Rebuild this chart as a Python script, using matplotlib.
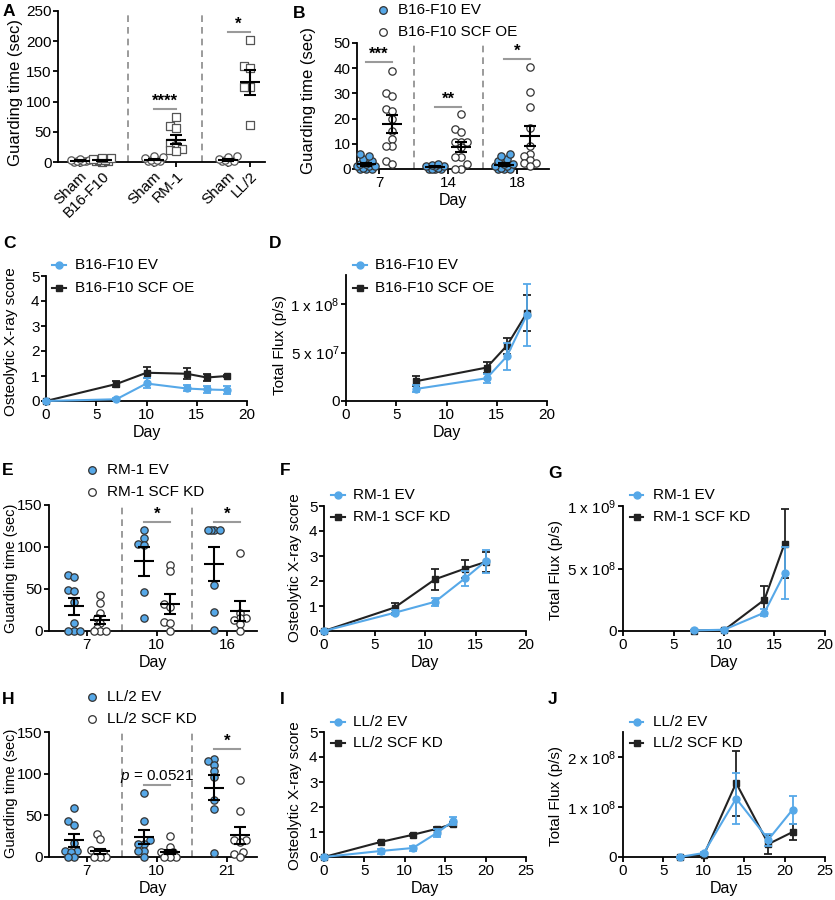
import numpy as np
import matplotlib
matplotlib.use('Agg')
import matplotlib.pyplot as plt
from matplotlib.lines import Line2D

matplotlib.rcParams.update({
    'font.family': ['Liberation Sans', 'DejaVu Sans'],
    'font.size': 11,
    'mathtext.fontset': 'custom',
    'mathtext.rm': 'Liberation Sans',
    'mathtext.it': 'Liberation Sans:italic',
    'axes.linewidth': 1.3,
    'axes.spines.top': False,
    'axes.spines.right': False,
    'xtick.major.width': 1.3,
    'ytick.major.width': 1.3,
    'xtick.major.size': 3.6,
    'ytick.major.size': 3.6,
    'xtick.major.pad': 1.5,
    'ytick.major.pad': 1.0,
    'axes.labelpad': 2,
})

BLUE = '#56a8e8'
DARK = '#222222'
EDGE = '#333333'
W, H = 835, 900

# ---- A: guarding time, sham vs tumour ----
a_labels = ['Sham', 'B16-F10', 'Sham', 'RM-1', 'Sham', 'LL/2']
a_points = [
    [0, 0, 1, 1, 2, 3, 4, 5],
    [0, 1, 2, 3, 4, 5, 6, 6],
    [0, 1, 2, 3, 4, 6, 9, 10],
    [74, 59, 56, 31, 27, 22, 20, 18],
    [0, 1, 2, 3, 5, 9, 10],
    [202, 159, 155, 124, 124, 62],
]
a_mean = [2, 3, 4, 37, 3, 132]
a_sem = [0.6, 0.8, 1.3, 8, 1.5, 21]
a_stars = ['', '****', '*']
a_star_y = [0, 88, 215]

# ---- B: B16-F10 EV vs SCF OE ----
b_days = [7, 14, 18]
b_ev = [
    [0, 0, 0, 0.5, 1, 1, 1, 2, 2, 3, 4, 5, 6],
    [0, 0, 0, 0, 0.5, 1, 1, 1, 1.5, 2],
    [0, 0, 0, 0.5, 1, 1, 2, 2, 3, 4, 5, 6],
]
b_oe = [
    [39, 30, 29, 24, 23, 20, 15, 12, 9, 9, 3, 2],
    [21.7, 15.9, 14.8, 10.8, 10.8, 10.8, 8.9, 4.9, 4.9, 1.9, 0, 0],
    [40.6, 30.7, 24.7, 16.1, 9.3, 6, 5.2, 3.6, 2.2, 2.2, 1],
]
b_ev_mean = [1.8, 0.8, 1.7]
b_ev_sem = [0.6, 0.2, 0.55]
b_oe_mean = [17.9, 8.7, 13.2]
b_oe_sem = [3.5, 2.1, 4.0]
b_stars = ['***', '**', '*']
b_star_y = [42.5, 24.6, 43.7]

# ---- C / D: B16-F10 x-ray score and flux ----
c_days = [0, 7, 10, 14, 16, 18]
c_ev = [0, 0.07, 0.7, 0.5, 0.46, 0.44]
c_ev_err = [0, 0.03, 0.2, 0.12, 0.13, 0.15]
c_oe = [0, 0.68, 1.13, 1.09, 0.94, 1.0]
c_oe_err = [0, 0.13, 0.23, 0.23, 0.15, 0.05]

d_days = [7, 14, 16, 18]
d_ev = [1.25e7, 2.35e7, 4.6e7, 8.9e7]
d_ev_err = [0.35e7, 0.45e7, 1.4e7, 3.2e7]
d_oe = [2.05e7, 3.45e7, 5.7e7, 9.1e7]
d_oe_err = [0.55e7, 0.55e7, 0.85e7, 1.85e7]

# ---- E: RM-1 EV vs SCF KD ----
e_days = [7, 10, 16]
e_ev = [
    [67, 64, 49, 48, 34, 9, 0, 0, 0],
    [120, 111, 103, 102, 47, 15],
    [120, 120, 120, 120, 55, 23, 1],
]
e_kd = [
    [43, 33, 22, 16, 10, 3, 0, 0, 0],
    [79, 71, 32, 28, 11, 9, 0],
    [93, 22, 15, 15, 13, 8, 0],
]
e_ev_mean = [29.5, 83, 80]
e_ev_sem = [10, 17, 20]
e_kd_mean = [13, 32, 23.5]
e_kd_sem = [5, 11.5, 12]
e_stars = ['', '*', '*']
e_star_y = [0, 130, 130]

# ---- F / G: RM-1 x-ray score and flux ----
f_days = [0, 7, 11, 14, 16]
f_ev = [0, 0.73, 1.17, 2.12, 2.79]
f_ev_err = [0, 0.1, 0.17, 0.3, 0.45]
f_kd = [0, 0.94, 2.07, 2.5, 2.76]
f_kd_err = [0, 0.2, 0.42, 0.36, 0.4]

g_days = [7, 10, 14, 16]
g_ev = [0.005e9, 0.01e9, 0.147e9, 0.464e9]
g_ev_err = [0.003e9, 0.005e9, 0.03e9, 0.205e9]
g_kd = [0.003e9, 0.006e9, 0.25e9, 0.7e9]
g_kd_err = [0.002e9, 0.003e9, 0.11e9, 0.275e9]

# ---- H: LL/2 EV vs SCF KD ----
h_days = [7, 10, 21]
h_ev = [
    [59, 43, 39, 17, 7, 7, 6, 0, 0],
    [77, 43, 20, 16, 16, 7, 7, 0],
    [118, 115, 111, 103, 96, 68, 58, 5],
]
h_kd = [
    [28, 22, 8, 6, 6, 0, 0, 0],
    [25, 12, 6, 6, 4, 0, 0, 0],
    [92, 55, 20, 20, 18, 6, 4, 0],
]
h_ev_mean = [20, 24, 83]
h_ev_sem = [8, 8.5, 15]
h_kd_mean = [7, 6, 26]
h_kd_sem = [3, 2.5, 10]
h_stars = ['', '$p$ = 0.0521', '*']
h_star_y = [0, 86, 130]

# ---- I / J: LL/2 x-ray score and flux ----
i_days = [0, 7, 11, 14, 16]
i_ev = [0, 0.24, 0.36, 0.97, 1.44]
i_ev_err = [0, 0.1, 0.1, 0.15, 0.17]
i_kd = [0, 0.6, 0.89, 1.13, 1.33]
i_kd_err = [0, 0.04, 0.05, 0.06, 0.08]

j_days = [7, 10, 14, 18, 21]
j_ev = [0.0, 0.08e8, 1.17e8, 0.35e8, 0.95e8]
j_ev_err = [0.01e8, 0.03e8, 0.51e8, 0.12e8, 0.28e8]
j_kd = [0.0, 0.04e8, 1.48e8, 0.26e8, 0.5e8]
j_kd_err = [0.01e8, 0.02e8, 0.65e8, 0.19e8, 0.16e8]


fig = plt.figure(figsize=(W / 100, H / 100), dpi=100)
boxes = {}


def box(l, t, r, b):
    ax = fig.add_axes([l / W, 1 - b / H, (r - l) / W, (b - t) / H])
    boxes[ax] = (l, t, r, b)
    return ax


def ylab(ax, text, xc, yc, size=11):
    l, t, r, b = boxes[ax]
    ax.set_ylabel(text, fontsize=size, va='center')
    ax.yaxis.set_label_coords((xc - l) / (r - l), (b - yc) / (b - t))


def scales(ax):
    bb = ax.get_window_extent()
    x0, x1 = ax.get_xlim()
    y0, y1 = ax.get_ylim()
    return bb.width / (x1 - x0), bb.height / (y1 - y0)


def swarm(ax, vals, xc, d=6.0, steps=3):
    # simple beeswarm with limited width; overlap allowed when crowded
    sx, sy = scales(ax)
    cands = sorted([k * d / 2 for k in range(-steps, steps + 1)], key=abs)
    placed = []
    xs = np.zeros(len(vals))
    for i in np.argsort(vals):
        y = vals[i] * sy
        best, best_gap = 0.0, -1.0
        for c in cands:
            gap = min([np.hypot(c - px, y - py) for px, py in placed] or [99])
            if gap >= 0.95 * d:
                best = c
                break
            if gap > best_gap + 0.5:
                best, best_gap = c, gap
        placed.append((best, y))
        xs[i] = xc + best / sx
    return xs


def dot_group(ax, vals, xc, mean, sem, face, marker='o', edge=EDGE):
    sx, sy = scales(ax)
    xs = swarm(ax, vals, xc)
    ax.scatter(xs, vals, s=28, marker=marker, facecolor=face, edgecolor=edge,
               linewidth=0.9, zorder=3, clip_on=False)
    half = 10 / sx
    ax.hlines(mean, xc - half, xc + half, color='black', lw=1.5, zorder=4)
    ax.errorbar(xc, mean, yerr=sem, fmt='none', ecolor='black', elinewidth=1.5,
                capsize=4, capthick=1.5, zorder=4)


def sig(ax, x1, x2, y, text):
    if not text:
        return
    ax.plot([x1, x2], [y, y], color='#9a9a9a', lw=1.5, clip_on=False)
    if text.startswith('$'):
        ax.text((x1 + x2) / 2, y, text, ha='center', va='bottom', fontsize=11)
    else:
        ax.text((x1 + x2) / 2, y, text, ha='center', va='bottom', fontsize=12,
                fontweight='bold')


def legend_dots(xm, xt, ys, labels):
    for y, lab, face in zip(ys, labels, [BLUE, 'white']):
        fig.add_artist(Line2D([xm / W], [1 - y / H], marker='o', ls='none',
                              ms=5.5, mfc=face, mec=EDGE, mew=0.9,
                              transform=fig.transFigure))
        fig.text(xt / W, 1 - y / H, lab, ha='left', va='center', fontsize=11)


def legend_lines(x1, x2, xt, ys, labels):
    for y, lab, col, mk in zip(ys, labels, [BLUE, DARK], ['o', 's']):
        yf = 1 - y / H
        fig.add_artist(Line2D([x1 / W, x2 / W], [yf, yf], color=col, lw=1.5,
                              transform=fig.transFigure))
        fig.add_artist(Line2D([(x1 + x2) / 2 / W], [yf], marker=mk, ls='none',
                              ms=5, color=col, transform=fig.transFigure))
        fig.text(xt / W, yf, lab, ha='left', va='center', fontsize=11)


def dashes(ax, xs):
    for x in xs:
        ax.axvline(x, color='#8a8a8a', lw=1.2, ls=(0, (4, 3)), zorder=1)


def guarding_panel(ax, days, ev, kd, ev_mean, ev_sem, kd_mean, kd_sem,
                   stars, star_y, ymax, yticks, left, right):
    ax.set_xlim(left, right)
    ax.set_ylim(0, ymax)
    ax.set_yticks(yticks)
    ax.set_xticks(range(len(days)))
    ax.set_xticklabels([str(d) for d in days])
    ax.set_xlabel('Day', fontsize=11.5)
    dashes(ax, [0.5, 1.5])
    for g in range(len(days)):
        dot_group(ax, ev[g], g - 0.19, ev_mean[g], ev_sem[g], BLUE)
        dot_group(ax, kd[g], g + 0.19, kd_mean[g], kd_sem[g], 'white')
        sig(ax, g - 0.19, g + 0.19, star_y[g], stars[g])


def line_panel(ax, x, ev, ev_err, kd, kd_err, xmax, ylim):
    kw = dict(lw=1.5, ms=5, capsize=3, capthick=1.3, elinewidth=1.3, clip_on=False)
    ax.errorbar(x, kd, yerr=kd_err, color=DARK, marker='s', zorder=3, **kw)
    ax.errorbar(x, ev, yerr=ev_err, color=BLUE, marker='o', zorder=4, **kw)
    ax.set_xlim(0, xmax)
    ax.set_xticks(np.arange(0, xmax + 1, 5))
    ax.set_ylim(*ylim)
    ax.set_xlabel('Day', fontsize=11.5)


# ---- A ----
axA = box(58, 11, 265, 162)
a_x = [0, 1, 3.35, 4.35, 6.7, 7.7]
axA.set_xlim(-1.0, 8.4)
axA.set_ylim(0, 250)
axA.set_yticks(range(0, 251, 50))
axA.set_xticks(a_x)
axA.set_xticklabels(a_labels, rotation=45, ha='right', rotation_mode='anchor')
ylab(axA, 'Guarding time (sec)', 16, 93, 12)
dashes(axA, [2.175, 5.525])
for i in range(6):
    mk = 'o' if i % 2 == 0 else 's'
    dot_group(axA, a_points[i], a_x[i], a_mean[i], a_sem[i], 'white', marker=mk,
              edge='#555555')
for g in range(3):
    sig(axA, a_x[2 * g], a_x[2 * g + 1], a_star_y[g], a_stars[g])

# ---- B ----
axB = box(357, 43, 549, 169)
guarding_panel(axB, b_days, b_ev, b_oe, b_ev_mean, b_ev_sem, b_oe_mean, b_oe_sem,
               b_stars, b_star_y, 50, range(0, 51, 10), -0.32, 2.46)
ylab(axB, 'Guarding time (sec)', 308, 100, 12)
legend_dots(383, 398, [10, 32], ['B16-F10 EV', 'B16-F10 SCF OE'])

# ---- C ----
axC = box(46, 276, 247, 401)
line_panel(axC, c_days, c_ev, c_ev_err, c_oe, c_oe_err, 20, (0, 5))
axC.set_yticks(range(6))
ylab(axC, 'Osteolytic X-ray score', 11, 342)
legend_lines(52, 66, 75, [265, 288], ['B16-F10 EV', 'B16-F10 SCF OE'])

# ---- D ----
axD = box(346, 275, 547, 401)
line_panel(axD, d_days, d_ev, d_ev_err, d_oe, d_oe_err, 20, (0, 1.3e8))
axD.set_yticks([0, 5e7, 1e8])
axD.set_yticklabels(['0', r'5 x 10$^{7}$', r'1 x 10$^{8}$'])
ylab(axD, 'Total Flux (p/s)', 280, 345)
legend_lines(353, 367, 375, [265, 288], ['B16-F10 EV', 'B16-F10 SCF OE'])

# ---- E ----
axE = box(49, 505, 257, 631)
guarding_panel(axE, e_days, e_ev, e_kd, e_ev_mean, e_ev_sem, e_kd_mean, e_kd_sem,
               e_stars, e_star_y, 150, range(0, 151, 50), -0.54, 2.43)
ylab(axE, 'Guarding time (sec)', 11, 568, 10.5)
legend_dots(92, 107, [470, 492], ['RM-1 EV', 'RM-1 SCF KD'])

# ---- F ----
axF = box(324, 506, 526, 631)
line_panel(axF, f_days, f_ev, f_ev_err, f_kd, f_kd_err, 20, (0, 5))
axF.set_yticks(range(6))
ylab(axF, 'Osteolytic X-ray score', 295, 568)
legend_lines(331, 345, 353, [495, 517], ['RM-1 EV', 'RM-1 SCF KD'])

# ---- G ----
axG = box(623, 506, 825, 631)
line_panel(axG, g_days, g_ev, g_ev_err, g_kd, g_kd_err, 20, (0, 1e9))
axG.set_yticks([0, 5e8, 1e9])
axG.set_yticklabels(['0', r'5 x 10$^{8}$', r'1 x 10$^{9}$'])
ylab(axG, 'Total Flux (p/s)', 556, 570)
legend_lines(630, 643, 653, [495, 517], ['RM-1 EV', 'RM-1 SCF KD'])

# ---- H ----
axH = box(49, 732, 257, 857)
guarding_panel(axH, h_days, h_ev, h_kd, h_ev_mean, h_ev_sem, h_kd_mean, h_kd_sem,
               h_stars, h_star_y, 150, range(0, 151, 50), -0.54, 2.43)
ylab(axH, 'Guarding time (sec)', 11, 793, 10.5)
legend_dots(92, 107, [697, 719], ['LL/2 EV', 'LL/2 SCF KD'])

# ---- I ----
axI = box(324, 732, 526, 857)
line_panel(axI, i_days, i_ev, i_ev_err, i_kd, i_kd_err, 25, (0, 5))
axI.set_yticks(range(6))
ylab(axI, 'Osteolytic X-ray score', 295, 796)
legend_lines(331, 345, 353, [722, 743], ['LL/2 EV', 'LL/2 SCF KD'])

# ---- J ----
axJ = box(623, 732, 825, 857)
line_panel(axJ, j_days, j_ev, j_ev_err, j_kd, j_kd_err, 25, (0, 2.5e8))
axJ.set_yticks([0, 1e8, 2e8])
axJ.set_yticklabels(['0', r'1 x 10$^{8}$', r'2 x 10$^{8}$'])
ylab(axJ, 'Total Flux (p/s)', 556, 796)
legend_lines(630, 643, 653, [722, 743], ['LL/2 EV', 'LL/2 SCF KD'])

# panel letters
for lab, x, y in [('A', 3, 12), ('B', 293, 13), ('C', 3, 243), ('D', 269, 244),
                  ('E', 2, 470), ('F', 280, 470), ('G', 548, 473),
                  ('H', 2, 700), ('I', 280, 700), ('J', 548, 700)]:
    fig.text(x / W, 1 - y / H, lab, ha='left', va='center', fontsize=12.5,
             fontweight='bold')

fig.savefig('out.png', dpi=100)
